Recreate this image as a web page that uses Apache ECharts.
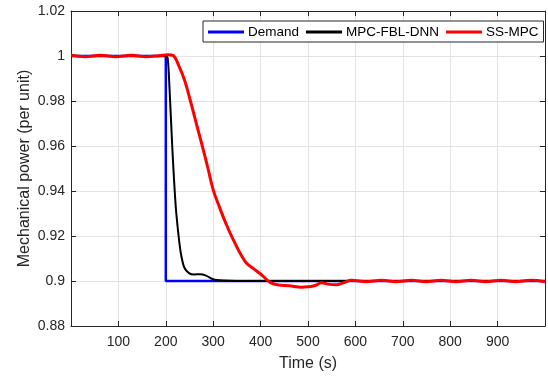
<!DOCTYPE html>
<html>
<head>
<meta charset="utf-8">
<script src="https://cdn.jsdelivr.net/npm/echarts@6/dist/echarts.min.js"></script>
<style>
html, body { margin: 0; padding: 0; background: #fff; }
#chart { width: 548px; height: 377px; }
</style>
</head>
<body>
<div id="chart"></div>
<script>
// values: [time (s), power (per unit)]
var demandData = [[0, 1], [200, 1], [200, 0.9], [1000, 0.9]];

var fblData = [
	[0, 1], [200, 1], [204, 0.999], [208, 0.985], [214, 0.958], [221, 0.933],
	[227, 0.92], [232, 0.912], [239, 0.906], [249, 0.9035], [260, 0.9029],
	[272, 0.903], [285, 0.9024], [300, 0.9008], [320, 0.9002], [350, 0.9],
	[500, 0.9], [1000, 0.9]
];

var ssData = [
	[0, 1.0003], [30, 0.9997], [62, 1.0003], [95, 0.9997], [127, 1.0003],
	[158, 0.9997], [185, 1.0001], [205, 1.0006], [215, 1.0003], [228, 0.9954],
	[240, 0.989], [252, 0.98], [265, 0.9695], [277, 0.96], [289, 0.95],
	[300, 0.9405], [312, 0.9335], [325, 0.9265], [342, 0.9185], [368, 0.9085],
	[385, 0.9055], [405, 0.9022], [420, 0.8994],
	[438, 0.8982], [460, 0.8979], [486, 0.8972], [500, 0.8974], [515, 0.898],
	[528, 0.8992], [545, 0.8985], [560, 0.8983], [575, 0.8992], [592, 0.9003],
	[623, 0.8997], [655, 0.9003], [686, 0.8997], [718, 0.9003], [749, 0.8997],
	[781, 0.9003], [812, 0.8997], [844, 0.9003], [875, 0.8997], [907, 0.9003],
	[938, 0.8997], [970, 0.9003], [1000, 0.8997]
];

var seriesNames = ['Demand', 'MPC-FBL-DNN', 'SS-MPC'];

var axisColor = '#262626';
var gridColor = '#e3e3e3';
var fontFamily = 'Liberation Sans, Arial, sans-serif';

function xLabel(v) {
	if (v <= 0 || v >= 1000) {
		return '';
	}
	return String(v);
}

function yLabel(v) {
	return String(parseFloat(v.toFixed(2)));
}

function frameAxis(pos, isX) {
	var ax = {
		type: 'value',
		position: pos,
		axisLine: { show: true, onZero: false, lineStyle: { color: axisColor, width: 1 } },
		axisTick: { show: true, inside: true, length: 5, lineStyle: { color: axisColor } },
		axisLabel: { show: false },
		splitLine: { show: false }
	};
	if (isX) {
		ax.min = 0; ax.max = 1000; ax.interval = 100;
	} else {
		ax.min = 0.88; ax.max = 1.02; ax.interval = 0.02;
	}
	return ax;
}

var chart = echarts.init(document.getElementById('chart'), null, { renderer: 'canvas' });

var option = {
	animation: false,
	backgroundColor: '#fff',
	grid: { left: 71, top: 11, right: 1, bottom: 51 },
	legend: {
		data: seriesNames,
		left: 203,
		top: 21,
		padding: [4, 5, 3, 5],
		itemGap: 7,
		itemWidth: 36,
		itemHeight: 3,
		icon: 'rect',
		backgroundColor: '#fff',
		borderColor: axisColor,
		borderWidth: 1,
		borderRadius: 0,
		textStyle: { fontFamily: fontFamily, fontSize: 13.5, color: '#000', padding: [0, 0, 0, -1] }
	},
	xAxis: [{
		type: 'value',
		min: 0,
		max: 1000,
		interval: 100,
		name: 'Time (s)',
		nameLocation: 'middle',
		nameGap: 30,
		nameMoveOverlap: false,
		nameTextStyle: { fontFamily: fontFamily, fontSize: 16, color: axisColor },
		axisLine: { show: true, onZero: false, lineStyle: { color: axisColor, width: 1 } },
		axisTick: { show: true, inside: true, length: 5, lineStyle: { color: axisColor } },
		axisLabel: { formatter: xLabel, margin: 9, fontFamily: fontFamily, fontSize: 14, color: axisColor, showMinLabel: true, showMaxLabel: true },
		splitLine: { show: true, lineStyle: { color: gridColor, width: 1 } }
	}, frameAxis('top', true)],
	yAxis: [{
		type: 'value',
		min: 0.88,
		max: 1.02,
		interval: 0.02,
		name: 'Mechanical power (per unit)',
		nameLocation: 'middle',
		nameGap: 38,
		nameMoveOverlap: false,
		nameTextStyle: { fontFamily: fontFamily, fontSize: 16, color: axisColor },
		axisLine: { show: true, onZero: false, lineStyle: { color: axisColor, width: 1 } },
		axisTick: { show: true, inside: true, length: 5, lineStyle: { color: axisColor } },
		axisLabel: { formatter: yLabel, margin: 6, fontFamily: fontFamily, fontSize: 14, color: axisColor },
		splitLine: { show: true, lineStyle: { color: gridColor, width: 1 } }
	}, frameAxis('right', false)],
	series: [{
		name: seriesNames[0],
		type: 'line',
		data: demandData,
		symbol: 'none',
		itemStyle: { color: '#0000ff' },
		lineStyle: { color: '#0000ff', width: 2.5 },
		z: 2
	}, {
		name: seriesNames[1],
		type: 'line',
		data: fblData,
		symbol: 'none',
		smooth: 0.3,
		itemStyle: { color: '#000' },
		lineStyle: { color: '#000', width: 2 },
		z: 3
	}, {
		name: seriesNames[2],
		type: 'line',
		data: ssData,
		symbol: 'none',
		smooth: 0.4,
		itemStyle: { color: '#ff0000' },
		lineStyle: { color: '#ff0000', width: 3 },
		z: 4
	}]
};

chart.setOption(option);
</script>
</body>
</html>
